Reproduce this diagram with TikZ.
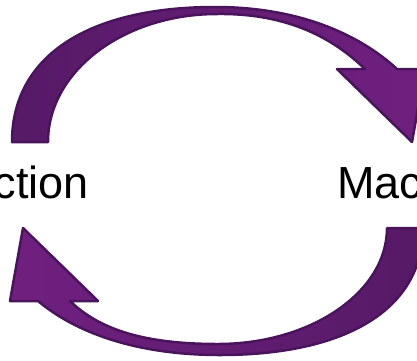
\documentclass[tikz,border=0pt]{standalone}
\usepackage{fontspec}
\setmainfont{Liberation Sans}
\usepackage{xcolor}
\usepackage{tikz}
\definecolor{arrowline}{RGB}{74,20,92}
\definecolor{arrowdark}{RGB}{86,26,102}
\definecolor{arrowlight}{RGB}{112,32,128}

\begin{document}
\begin{tikzpicture}[
    x=1pt, y=-1pt,
    cyclearrow/.style={draw=arrowline, line width=2.5pt, line join=round},
    label/.style={font=\fontsize{45}{54}\selectfont, inner sep=0pt},
]
    \clip (0,0) rectangle (417,360);

    % Labels
    \node[label, anchor=base east] (action) at (89,198) {ction};
    \node[label, anchor=base west] (machine) at (337,198) {Mac};

    % Top arrow: Action -> Machine
    \path[cyclearrow, left color=arrowdark, right color=arrowlight]
        (12,142) .. controls (12,55) and (90,7) .. (215,7)
        .. controls (300,7) and (360,35) .. (397,69)
        -- (425,69) -- (412,142) -- (337,69) -- (365,69)
        .. controls (335,40) and (290,13) .. (217,14)
        .. controls (124,14) and (48,71) .. (48,142) -- cycle;

    % Bottom arrow: Machine -> Action
    \path[cyclearrow, left color=arrowlight, right color=arrowdark]
        (423,228) .. controls (423,310) and (345,355) .. (220,355)
        .. controls (135,355) and (75,332) .. (38,301)
        -- (10,301) -- (23,228) -- (98,301) -- (70,301)
        .. controls (100,330) and (145,344) .. (218,344)
        .. controls (311,344) and (387,292) .. (387,228) -- cycle;
\end{tikzpicture}
\end{document}
